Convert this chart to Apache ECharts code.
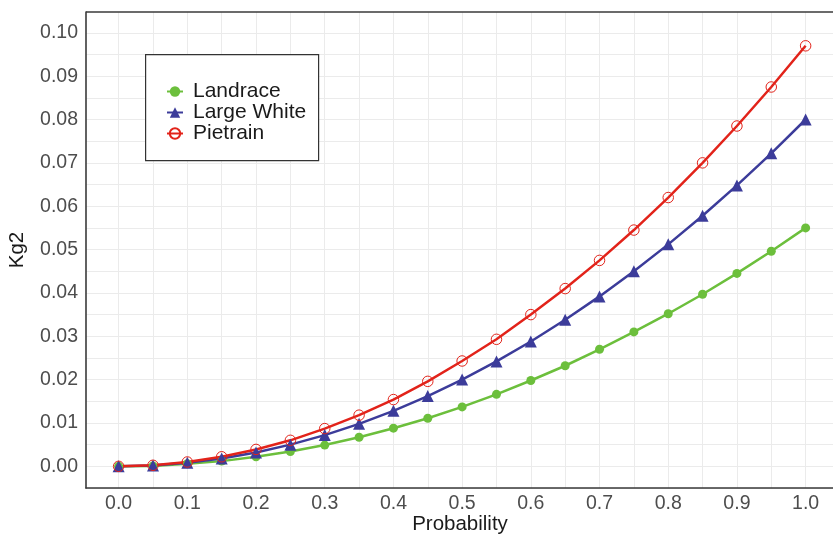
<!DOCTYPE html>
<html><head><meta charset="utf-8">
<script src="https://cdn.jsdelivr.net/npm/echarts@6/dist/echarts.min.js"></script>
<style>html,body{margin:0;padding:0;background:#fff}#c{width:833px;height:538px}</style>
</head><body><div id="c"></div>
<script>
const probability = [0,0.05,0.1,0.15,0.2,0.25,0.3,0.35,0.4,0.45,0.5,0.55,0.6,0.65,0.7,0.75,0.8,0.85,0.9,0.95,1.0];
const landrace = [0,0.0001,0.0006,0.0012,0.0022,0.0034,0.0049,0.0067,0.0088,0.0111,0.0137,0.0166,0.0198,0.0232,0.027,0.031,0.0352,0.0397,0.0445,0.0496,0.055];
const largeWhite = [0,0.0002,0.0008,0.0018,0.0032,0.005,0.0072,0.0098,0.0128,0.0162,0.02,0.0242,0.0288,0.0338,0.0392,0.045,0.0512,0.0578,0.0648,0.0722,0.080];
const pietrain = [0,0.00024,0.001,0.0022,0.0039,0.006,0.0087,0.0118,0.0154,0.0196,0.0243,0.0293,0.035,0.041,0.0475,0.0545,0.062,0.070,0.0785,0.0875,0.097];
const seriesNames = ['Landrace','Large White','Pietrain'];
const xTicks = [0,0.1,0.2,0.3,0.4,0.5,0.6,0.7,0.8,0.9,1.0];
const xGrid = [0,0.05,0.1,0.15,0.2,0.25,0.3,0.35,0.4,0.45,0.5,0.55,0.6,0.65,0.7,0.75,0.8,0.85,0.9,0.95,1.0];
const yTicks = [0,0.01,0.02,0.03,0.04,0.05,0.06,0.07,0.08,0.09,0.10];
const yGrid = [-0.005,0,0.005,0.01,0.015,0.02,0.025,0.03,0.035,0.04,0.045,0.05,0.055,0.06,0.065,0.07,0.075,0.08,0.085,0.09,0.095,0.10];

const pair = arr => probability.map((p,i)=>[p,arr[i]]);
const chart = echarts.init(document.getElementById('c'), null, {renderer:'canvas'});
const font = 'Liberation Sans, Arial, sans-serif';
const frame = '#3a3a3a';
chart.setOption({
  animation:false,
  backgroundColor:'#fff',
  grid:{left:86, top:12, width:748, height:476, show:false, containLabel:false, outerBoundsMode:'none'},
  xAxis:{type:'value', min:-0.0475, max:1.0413,
    name:'Probability', nameLocation:'middle', nameGap:26, nameMoveOverlap:false,
    nameTextStyle:{fontFamily:font, fontSize:20.5, color:'#1a1a1a'},
    axisLine:{show:true, onZero:false, lineStyle:{color:frame, width:1.6}},
    axisTick:{show:false, customValues:xGrid},
    axisLabel:{customValues:xTicks, fontFamily:font, fontSize:19.5, color:'#4d4d4d', margin:6, formatter:v=>v.toFixed(1)},
    splitLine:{show:true, lineStyle:{color:'#ebebeb', width:1}}
  },
  yAxis:{type:'value', min:-0.005, max:0.1048,
    name:'Kg2', nameLocation:'middle', nameGap:58, nameRotate:90, nameMoveOverlap:false,
    nameTextStyle:{fontFamily:font, fontSize:20.5, color:'#1a1a1a'},
    axisLine:{show:true, onZero:false, lineStyle:{color:frame, width:1.6}},
    axisTick:{show:false, customValues:yGrid},
    axisLabel:{customValues:yTicks, fontFamily:font, fontSize:19.5, color:'#4d4d4d', margin:8, formatter:v=>v.toFixed(2)},
    splitLine:{show:true, lineStyle:{color:'#ebebeb', width:1}}
  },
  graphic:[
    {type:'line', shape:{x1:86, y1:12, x2:833, y2:12}, style:{stroke:frame, lineWidth:1.6}, z:50},
    {type:'rect', left:145, top:54, shape:{width:173, height:106}, style:{fill:'#fff', stroke:'#333', lineWidth:1.2}, z:50}
  ],
  legend:{left:161, top:76, orient:'vertical', itemWidth:16, itemHeight:13, itemGap:0, z:60,
    textStyle:{fontFamily:font, fontSize:21, color:'#1a1a1a', padding:[0,0,0,5]},
    data:seriesNames},
  series:[
    {name:seriesNames[0], type:'line', data:pair(landrace), symbol:'circle', symbolSize:9,
     itemStyle:{color:'#6cbf3c'}, lineStyle:{color:'#6cbf3c', width:2.5}},
    {name:seriesNames[1], type:'line', data:pair(largeWhite), symbol:'triangle', symbolSize:12,
     itemStyle:{color:'#3c3c9a'}, lineStyle:{color:'#3c3c9a', width:2.5}},
    {name:seriesNames[2], type:'line', data:pair(pietrain), symbol:'circle', symbolSize:10.5,
     itemStyle:{color:'rgba(0,0,0,0)', borderColor:'#e2231a', borderWidth:1}, lineStyle:{color:'#e2231a', width:2.5}}
  ]
});
</script></body></html>
